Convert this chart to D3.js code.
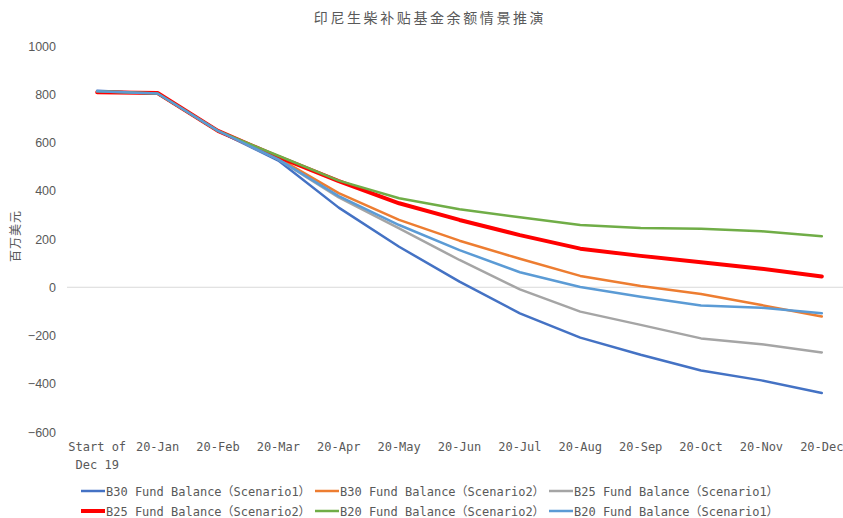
<!DOCTYPE html>
<html>
<head>
<meta charset="utf-8">
<script src="https://cdn.jsdelivr.net/npm/d3@7"></script>
<style>
  html, body { margin: 0; padding: 0; background: #fff; }
  svg { display: block; }
</style>
</head>
<body>
<svg id="chart" width="843" height="518"></svg>
<script>
// Month categories (first one spans two lines)
const categories = ["Start of\nDec 19", "20-Jan", "20-Feb", "20-Mar", "20-Apr", "20-May", "20-Jun",
                    "20-Jul", "20-Aug", "20-Sep", "20-Oct", "20-Nov", "20-Dec"];

// Fund balance per scenario, million USD
const b30s1 = [814, 803, 648, 525, 330, 168, 23, -108, -209, -280, -345, -386, -438];
const b30s2 = [812, 803, 648, 535, 390, 279, 193, 118, 47, 5, -28, -74, -121];
const b25s1 = [812, 803, 648, 530, 372, 244, 113, -9, -101, -156, -212, -236, -270];
const b25s2 = [808, 805, 648, 540, 440, 348, 279, 216, 160, 130, 104, 77, 45];
const b20s2 = [812, 803, 648, 545, 442, 369, 323, 290, 258, 246, 242, 232, 211];
const b20s1 = [812, 803, 648, 530, 378, 258, 154, 62, 1, -39, -76, -85, -108];

const yTicks = [-600, -400, -200, 0, 200, 400, 600, 800, 1000];

const seriesNames = ["B30 Fund Balance（Scenario1）", "B30 Fund Balance（Scenario2）", "B25 Fund Balance（Scenario1）",
                     "B25 Fund Balance（Scenario2）", "B20 Fund Balance（Scenario2）", "B20 Fund Balance（Scenario1）"];
const seriesValues = [b30s1, b30s2, b25s1, b25s2, b20s2, b20s1];
const seriesColors = ["#4472C4", "#ED7D31", "#A5A5A5", "#FF0000", "#70AD47", "#5B9BD5"];
const seriesWidths = [2.5, 2.5, 2.5, 4, 2.5, 2.5];

const series = seriesNames.map((name, i) => ({
  name, values: seriesValues[i], color: seriesColors[i], width: seriesWidths[i]
}));

const svg = d3.select("#chart");
const textColor = "#595959";
const monoFont = "'DejaVu Sans Mono', 'Noto Sans CJK JP', monospace";

const x = d3.scaleBand().domain(categories).range([67, 852]);
const y = d3.scaleLinear().domain([-600, 1000]).range([432, 46]);
const cx = c => x(c) + x.bandwidth() / 2;

// Title
svg.append("text")
  .attr("x", 430).attr("y", 23)
  .attr("text-anchor", "middle")
  .attr("font-family", "'Noto Sans CJK SC', sans-serif")
  .attr("font-size", 14)
  .attr("letter-spacing", 2.6)
  .attr("fill", textColor)
  .text("印尼生柴补贴基金余额情景推演");

// Y axis (labels only)
const yAxis = d3.axisLeft(y).tickValues(yTicks).tickFormat(d3.format("d")).tickSize(0).tickPadding(0);
const yG = svg.append("g").attr("transform", "translate(56,0)").call(yAxis);
yG.select(".domain").remove();
yG.selectAll("text")
  .attr("font-family", "'Liberation Sans', Arial, sans-serif")
  .attr("font-size", 12.5)
  .attr("fill", textColor);

// Y axis title
svg.append("text")
  .attr("transform", "translate(20,236) rotate(-90)")
  .attr("text-anchor", "middle")
  .attr("font-family", "'Noto Sans CJK SC', sans-serif")
  .attr("font-size", 12)
  .attr("letter-spacing", 1)
  .attr("fill", textColor)
  .text("百万美元");

// Zero baseline
svg.append("line")
  .attr("x1", 67).attr("x2", 852)
  .attr("y1", y(0)).attr("y2", y(0))
  .attr("stroke", "#d9d9d9").attr("stroke-width", 1);

// X axis labels
const xAxis = d3.axisBottom(x).tickSize(0).tickPadding(0).tickFormat("");
const xG = svg.append("g").attr("transform", "translate(0,432)").call(xAxis);
xG.select(".domain").remove();
xG.selectAll(".tick").each(function(d) {
  const lines = d.split("\n");
  const t = d3.select(this).append("text")
    .attr("text-anchor", "middle")
    .attr("font-family", monoFont)
    .attr("font-size", 12)
    .attr("fill", textColor)
    .attr("y", 19);
  lines.forEach((ln, i) => {
    t.append("tspan").attr("x", 0).attr("dy", i === 0 ? 0 : 18).text(ln);
  });
});

// Lines
const line = d3.line()
  .x((v, i) => cx(categories[i]))
  .y(v => y(v));

svg.append("g").selectAll("path")
  .data(series)
  .join("path")
  .attr("d", d => line(d.values))
  .attr("fill", "none")
  .attr("stroke", d => d.color)
  .attr("stroke-width", d => d.width)
  .attr("stroke-linejoin", "round")
  .attr("stroke-linecap", "round");

// Legend: two rows of three
const legend = svg.append("g");
series.forEach((s, i) => {
  const col = i % 3, row = Math.floor(i / 3);
  const lx = 81 + col * 234, ly = 491 + row * 20;
  legend.append("line")
    .attr("x1", lx).attr("x2", lx + 24)
    .attr("y1", ly).attr("y2", ly)
    .attr("stroke", s.color).attr("stroke-width", s.width);
  legend.append("text")
    .attr("x", lx + 25).attr("y", ly + 4.5)
    .attr("font-family", monoFont)
    .attr("font-size", 12)
    .attr("fill", textColor)
    .text(s.name);
});
</script>
</body>
</html>
